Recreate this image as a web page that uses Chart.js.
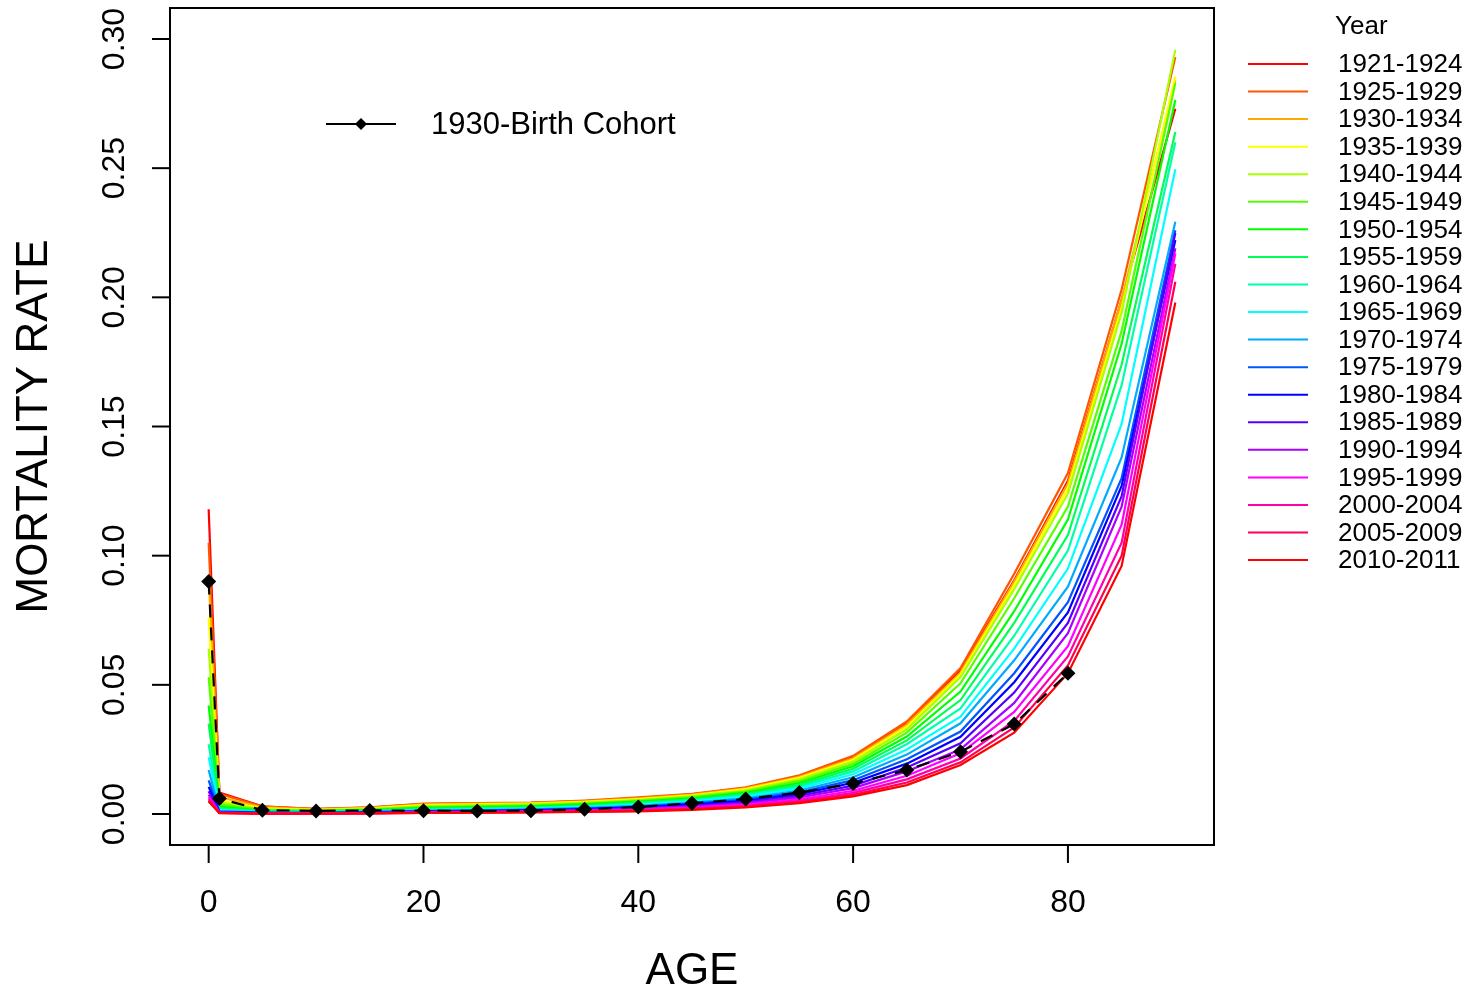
<!DOCTYPE html>
<html lang="en">
<head>
  <meta charset="UTF-8">
  <title>Mortality rate by age</title>
  <script src="https://cdn.jsdelivr.net/npm/chart.js"></script>
  <style>
    html, body { margin:0; padding:0; background:#fff; }
    #wrap { width:1469px; height:992px; }
  </style>
</head>
<body>
<div id="wrap"><canvas id="chart" width="1469" height="992"></canvas></div>

<script>
  // --- data ---
  const ages = [0, 1, 5, 10, 15, 20, 25, 30, 35, 40, 45, 50, 55, 60, 65, 70, 75, 80, 85, 90];
  const periods = ['1921-1924','1925-1929','1930-1934','1935-1939','1940-1944','1945-1949',
                   '1950-1954','1955-1959','1960-1964','1965-1969','1970-1974','1975-1979',
                   '1980-1984','1985-1989','1990-1994','1995-1999','2000-2004','2005-2009','2010-2011'];
  // one row per period, values at each age above
  const rates = [
    [0.118, 0.0083, 0.0030, 0.0019, 0.0025, 0.0038, 0.0041, 0.0043, 0.0050, 0.0062, 0.0076, 0.0100, 0.0146, 0.0220, 0.0352, 0.0556, 0.0905, 0.1290, 0.1990, 0.2730],
    [0.105, 0.0078, 0.0029, 0.0020, 0.0026, 0.0040, 0.0042, 0.0044, 0.0052, 0.0064, 0.0078, 0.0103, 0.0150, 0.0225, 0.0358, 0.0565, 0.0930, 0.1320, 0.2030, 0.2930],
    [0.092, 0.0066, 0.0026, 0.0018, 0.0024, 0.0037, 0.0040, 0.0042, 0.0049, 0.0061, 0.0075, 0.0099, 0.0144, 0.0216, 0.0346, 0.0548, 0.0900, 0.1280, 0.1990, 0.2840],
    [0.076, 0.0054, 0.0022, 0.0016, 0.0022, 0.0034, 0.0037, 0.0040, 0.0047, 0.0058, 0.0072, 0.0096, 0.0140, 0.0210, 0.0338, 0.0540, 0.0885, 0.1260, 0.1960, 0.2855],
    [0.064, 0.0045, 0.0019, 0.0014, 0.0020, 0.0031, 0.0034, 0.0037, 0.0044, 0.0055, 0.0069, 0.0092, 0.0134, 0.0203, 0.0328, 0.0530, 0.0870, 0.1240, 0.1940, 0.2958],
    [0.053, 0.0037, 0.0016, 0.0012, 0.0017, 0.0027, 0.0030, 0.0033, 0.0040, 0.0051, 0.0065, 0.0087, 0.0127, 0.0194, 0.0315, 0.0506, 0.0835, 0.1190, 0.1870, 0.2830],
    [0.042, 0.0029, 0.0013, 0.0010, 0.0015, 0.0024, 0.0027, 0.0030, 0.0037, 0.0048, 0.0061, 0.0082, 0.0120, 0.0185, 0.0300, 0.0474, 0.0785, 0.1140, 0.1820, 0.2764],
    [0.035, 0.0023, 0.0011, 0.0008, 0.0012, 0.0020, 0.0023, 0.0026, 0.0033, 0.0044, 0.0057, 0.0077, 0.0113, 0.0175, 0.0285, 0.0441, 0.0740, 0.1080, 0.1740, 0.2640],
    [0.027, 0.0018, 0.0009, 0.0007, 0.0010, 0.0017, 0.0020, 0.0023, 0.0030, 0.0040, 0.0053, 0.0072, 0.0106, 0.0165, 0.0270, 0.0409, 0.0690, 0.1020, 0.1660, 0.2600],
    [0.022, 0.0014, 0.0007, 0.0006, 0.0009, 0.0015, 0.0017, 0.0020, 0.0027, 0.0036, 0.0049, 0.0067, 0.0099, 0.0154, 0.0250, 0.0377, 0.0640, 0.0950, 0.1510, 0.2496],
    [0.017, 0.0011, 0.0006, 0.0005, 0.0008, 0.0013, 0.0015, 0.0018, 0.0024, 0.0032, 0.0044, 0.0061, 0.0091, 0.0142, 0.0230, 0.0351, 0.0595, 0.0880, 0.1380, 0.2293],
    [0.013, 0.0009, 0.0005, 0.0004, 0.0007, 0.0011, 0.0013, 0.0016, 0.0021, 0.0029, 0.0040, 0.0056, 0.0084, 0.0131, 0.0212, 0.0319, 0.0545, 0.0820, 0.1300, 0.2260],
    [0.0105,0.0007, 0.0004, 0.0003, 0.0006, 0.0009, 0.0011, 0.0014, 0.0019, 0.0026, 0.0036, 0.0051, 0.0077, 0.0121, 0.0195, 0.0299, 0.0510, 0.0780, 0.1270, 0.2222],
    [0.0088,0.0006, 0.0003, 0.0003, 0.0005, 0.0008, 0.0009, 0.0012, 0.0017, 0.0023, 0.0032, 0.0046, 0.0070, 0.0110, 0.0180, 0.0274, 0.0470, 0.0740, 0.1230, 0.2249],
    [0.0075,0.0005, 0.0003, 0.0002, 0.0004, 0.0007, 0.0008, 0.0010, 0.0014, 0.0020, 0.0029, 0.0041, 0.0064, 0.0100, 0.0165, 0.0250, 0.0430, 0.0700, 0.1190, 0.2190],
    [0.0065,0.0005, 0.0002, 0.0002, 0.0003, 0.0006, 0.0007, 0.0009, 0.0012, 0.0017, 0.0025, 0.0036, 0.0057, 0.0090, 0.0148, 0.0235, 0.0395, 0.0650, 0.1120, 0.2170],
    [0.0058,0.0004, 0.0002, 0.0001, 0.0003, 0.0005, 0.0006, 0.0008, 0.0011, 0.0015, 0.0022, 0.0032, 0.0051, 0.0082, 0.0134, 0.0215, 0.0360, 0.0610, 0.1050, 0.2130],
    [0.0052,0.0004, 0.0001, 0.0001, 0.0002, 0.0004, 0.0005, 0.0007, 0.0009, 0.0012, 0.0019, 0.0029, 0.0046, 0.0074, 0.0122, 0.0200, 0.0335, 0.0575, 0.1000, 0.2060],
    [0.0048,0.0003, 0.0001, 0.0001, 0.0002, 0.0004, 0.0005, 0.0006, 0.0008, 0.0010, 0.0016, 0.0026, 0.0042, 0.0068, 0.0112, 0.0190, 0.0315, 0.0545, 0.0960, 0.1980]
  ];
  const cohortLabel = '1930-Birth Cohort';
  const cohortAges  = [0, 1, 5, 10, 15, 20, 25, 30, 35, 40, 45, 50, 55, 60, 65, 70, 75, 80];
  const cohortRates = [0.090, 0.0060, 0.0015, 0.0012, 0.0014, 0.0013, 0.0012, 0.0013, 0.0018, 0.0027,
                       0.0042, 0.0058, 0.0083, 0.0118, 0.0170, 0.0241, 0.0348, 0.0545];
  const xTicks = [0, 20, 40, 60, 80];
  const yTicks = [0, 0.05, 0.10, 0.15, 0.20, 0.25, 0.30];

  // R rainbow(18), recycled for the 19th period
  const colors = ['#FF0000','#FF5500','#FFAA00','#FFFF00','#AAFF00','#55FF00','#00FF00','#00FF55','#00FFAA',
                  '#00FFFF','#00AAFF','#0055FF','#0000FF','#5500FF','#AA00FF','#FF00FF','#FF00AA','#FF0055','#FF0000'];

  const FONT = '"Liberation Sans", Arial, Helvetica, sans-serif';

  // --- datasets ---
  const datasets = periods.map((p, i) => ({
    label: p,
    data: ages.map((a, k) => ({ x: a, y: rates[i][k] })),
    borderColor: colors[i],
    backgroundColor: colors[i],
    borderWidth: 2.2,
    pointRadius: 0,
    tension: 0,
    order: periods.length - i      // later periods on top, like R
  }));
  datasets.push({
    label: cohortLabel,
    data: cohortAges.map((a, k) => ({ x: a, y: cohortRates[k] })),
    borderColor: '#000',
    backgroundColor: '#000',
    borderWidth: 2.2,
    borderDash: [13, 10],
    pointStyle: 'rectRot',
    pointRadius: 7.5,
    pointBorderWidth: 0,
    tension: 0,
    order: 0
  });

  // R-like frame, ticks, labels and legends
  const rFrame = {
    id: 'rFrame',
    afterDraw(chart) {
      const ctx = chart.ctx, a = chart.chartArea;
      const xs = chart.scales.x, ys = chart.scales.y;
      ctx.save();
      ctx.strokeStyle = '#000';
      ctx.fillStyle = '#000';
      ctx.lineWidth = 2;
      ctx.strokeRect(a.left, a.top, a.right - a.left, a.bottom - a.top);

      // x axis
      ctx.font = '32px ' + FONT;
      ctx.textAlign = 'center';
      ctx.textBaseline = 'middle';
      xTicks.forEach(t => {
        const px = xs.getPixelForValue(t);
        ctx.beginPath(); ctx.moveTo(px, a.bottom); ctx.lineTo(px, a.bottom + 18); ctx.stroke();
        ctx.fillText(String(t), px, 903);
      });
      // y axis (labels parallel to axis)
      yTicks.forEach(t => {
        const py = ys.getPixelForValue(t);
        ctx.beginPath(); ctx.moveTo(a.left, py); ctx.lineTo(a.left - 18, py); ctx.stroke();
        ctx.save();
        ctx.translate(115, py);
        ctx.rotate(-Math.PI / 2);
        ctx.fillText(t.toFixed(2), 0, 0);
        ctx.restore();
      });

      // axis titles
      ctx.font = '44px ' + FONT;
      ctx.fillText('AGE', (a.left + a.right) / 2, 972);
      ctx.save();
      ctx.translate(35, (a.top + a.bottom) / 2);
      ctx.rotate(-Math.PI / 2);
      ctx.fillText('MORTALITY RATE', 0, 0);
      ctx.restore();

      // cohort legend inside plot
      ctx.lineWidth = 2;
      ctx.beginPath(); ctx.moveTo(326, 124); ctx.lineTo(396, 124); ctx.stroke();
      ctx.beginPath();
      ctx.moveTo(361, 118); ctx.lineTo(367, 124); ctx.lineTo(361, 130); ctx.lineTo(355, 124);
      ctx.closePath(); ctx.fill();
      ctx.font = '31px ' + FONT;
      ctx.textAlign = 'left';
      ctx.fillText(cohortLabel, 431, 125);

      // period legend on the right
      ctx.font = '26px ' + FONT;
      ctx.fillText('Year', 1335, 27);
      periods.forEach((p, i) => {
        const y = 64 + i * 27.56;
        ctx.strokeStyle = colors[i];
        ctx.beginPath(); ctx.moveTo(1248, y); ctx.lineTo(1308, y); ctx.stroke();
        ctx.fillStyle = '#000';
        ctx.fillText(p, 1338, y + 1);
      });
      ctx.restore();
    }
  };

  new Chart(document.getElementById('chart'), {
    type: 'line',
    data: { datasets },
    options: {
      responsive: false,
      animation: false,
      layout: { padding: { left: 170, top: 8, right: 255, bottom: 147 } },
      plugins: { legend: { display: false }, tooltip: { enabled: false } },
      scales: {
        x: { type: 'linear', min: -3.6, max: 93.6, display: false },
        y: { type: 'linear', min: -0.012, max: 0.312, display: false }
      }
    },
    plugins: [rFrame]
  });
</script>
</body>
</html>
